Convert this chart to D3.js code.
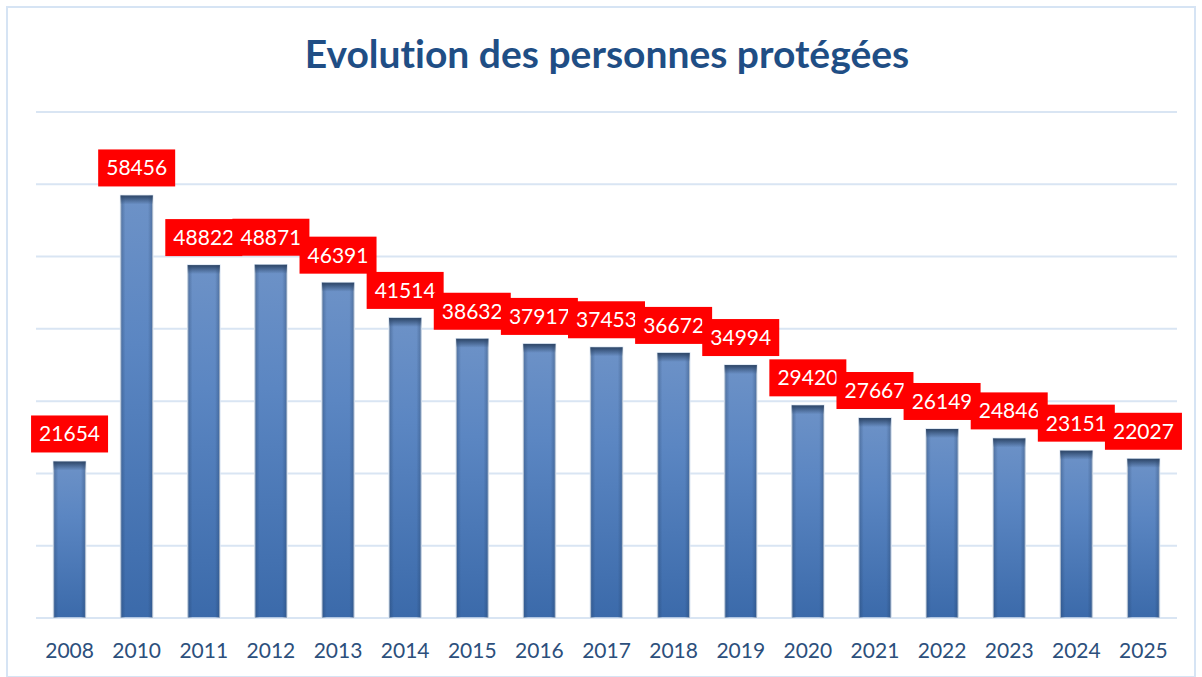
<!DOCTYPE html>
<html>
<head>
<meta charset="utf-8">
<script src="https://cdn.jsdelivr.net/npm/d3@7"></script>
<style>
  body { margin: 0; background: #fff; }
  svg { display: block; font-family: Lato, "Open Sans", sans-serif; font-variant-ligatures: none; }
</style>
</head>
<body>
<div id="chart"></div>
<script>
// data
const years = ["2008", "2010", "2011", "2012", "2013", "2014", "2015", "2016", "2017",
               "2018", "2019", "2020", "2021", "2022", "2023", "2024", "2025"];
const persons = [21654, 58456, 48822, 48871, 46391, 41514, 38632, 37917, 37453,
                 36672, 34994, 29420, 27667, 26149, 24846, 23151, 22027];
const yTicks = [0, 10000, 20000, 30000, 40000, 50000, 60000, 70000];
const chartTitle = "Evolution des personnes protégées";

const width = 1202, height = 677;
const margin = {top: 112, right: 25, bottom: 59, left: 36};

const svg = d3.select("#chart").append("svg")
    .attr("width", width)
    .attr("height", height);

// outer frame
svg.append("rect")
    .attr("x", 7).attr("y", 7)
    .attr("width", width - 14).attr("height", height - 7)
    .attr("fill", "#fff")
    .attr("stroke", "#d6e4f4")
    .attr("stroke-width", 2);

// gradients for the bars
const defs = svg.append("defs");
const vGrad = defs.append("linearGradient")
    .attr("id", "barV").attr("x1", 0).attr("y1", 0).attr("x2", 0).attr("y2", 1);
vGrad.append("stop").attr("offset", "0%").attr("stop-color", "#6d92c7");
vGrad.append("stop").attr("offset", "35%").attr("stop-color", "#5b86c2");
vGrad.append("stop").attr("offset", "100%").attr("stop-color", "#3b6aaa");

const hGrad = defs.append("linearGradient")
    .attr("id", "barH").attr("x1", 0).attr("y1", 0).attr("x2", 1).attr("y2", 0);
hGrad.append("stop").attr("offset", "0%").attr("stop-color", "#1c3557").attr("stop-opacity", 0.35);
hGrad.append("stop").attr("offset", "15%").attr("stop-color", "#1c3557").attr("stop-opacity", 0);
hGrad.append("stop").attr("offset", "85%").attr("stop-color", "#1c3557").attr("stop-opacity", 0);
hGrad.append("stop").attr("offset", "100%").attr("stop-color", "#1c3557").attr("stop-opacity", 0.35);

const topGrad = defs.append("linearGradient")
    .attr("id", "barTop").attr("x1", 0).attr("y1", 0).attr("x2", 0).attr("y2", 1);
topGrad.append("stop").attr("offset", "0%").attr("stop-color", "#2b4466").attr("stop-opacity", 1);
topGrad.append("stop").attr("offset", "100%").attr("stop-color", "#2b4466").attr("stop-opacity", 0);

// title
svg.append("text")
    .attr("x", 607).attr("y", 68)
    .attr("text-anchor", "middle")
    .attr("font-size", 39)
    .attr("font-weight", "bold")
    .attr("fill", "#1f4e85")
    .text(chartTitle);

const x = d3.scaleBand()
    .domain(years)
    .range([margin.left, width - margin.right])
    .paddingInner(0.52)
    .paddingOuter(0.26);

const y = d3.scaleLinear()
    .domain([0, 70000])
    .range([height - margin.bottom, margin.top]);

// grid lines
svg.append("g")
    .selectAll("line")
    .data(yTicks)
    .join("line")
    .attr("x1", margin.left).attr("x2", width - margin.right)
    .attr("y1", d => y(d)).attr("y2", d => y(d))
    .attr("stroke", "#d9e5f3")
    .attr("stroke-width", 2);

// bars
const bars = svg.append("g").selectAll("g")
    .data(persons)
    .join("g");

bars.append("rect")
    .attr("x", (d, i) => x(years[i]))
    .attr("y", d => y(d))
    .attr("width", x.bandwidth())
    .attr("height", d => y(0) - y(d))
    .attr("fill", "url(#barV)")
    .attr("stroke", "#dbe6f3")
    .attr("stroke-width", 1.5);

bars.append("rect")
    .attr("x", (d, i) => x(years[i]))
    .attr("y", d => y(d))
    .attr("width", x.bandwidth())
    .attr("height", d => y(0) - y(d))
    .attr("fill", "url(#barH)");

bars.append("rect")
    .attr("x", (d, i) => x(years[i]))
    .attr("y", d => y(d))
    .attr("width", x.bandwidth())
    .attr("height", 9)
    .attr("fill", "url(#barTop)");

// value labels in red boxes
const labels = svg.append("g").selectAll("g")
    .data(persons)
    .join("g")
    .attr("transform", (d, i) => `translate(${x(years[i]) + x.bandwidth() / 2},${y(d) - 9})`);

labels.append("rect")
    .attr("x", -38.5).attr("y", -37)
    .attr("width", 77).attr("height", 37)
    .attr("fill", "#ff0000");

labels.append("text")
    .attr("y", -11)
    .attr("text-anchor", "middle")
    .attr("font-size", 21)
    .attr("fill", "#fff")
    .text(d => d);

// x axis labels
svg.append("g")
    .attr("transform", `translate(0,${height - margin.bottom})`)
    .call(d3.axisBottom(x).tickSize(0).tickPadding(25))
    .call(g => g.select(".domain").remove())
    .selectAll("text")
    .attr("font-size", 21)
    .attr("font-family", "Lato, sans-serif")
    .attr("fill", "#2c4f7c");
</script>
</body>
</html>
